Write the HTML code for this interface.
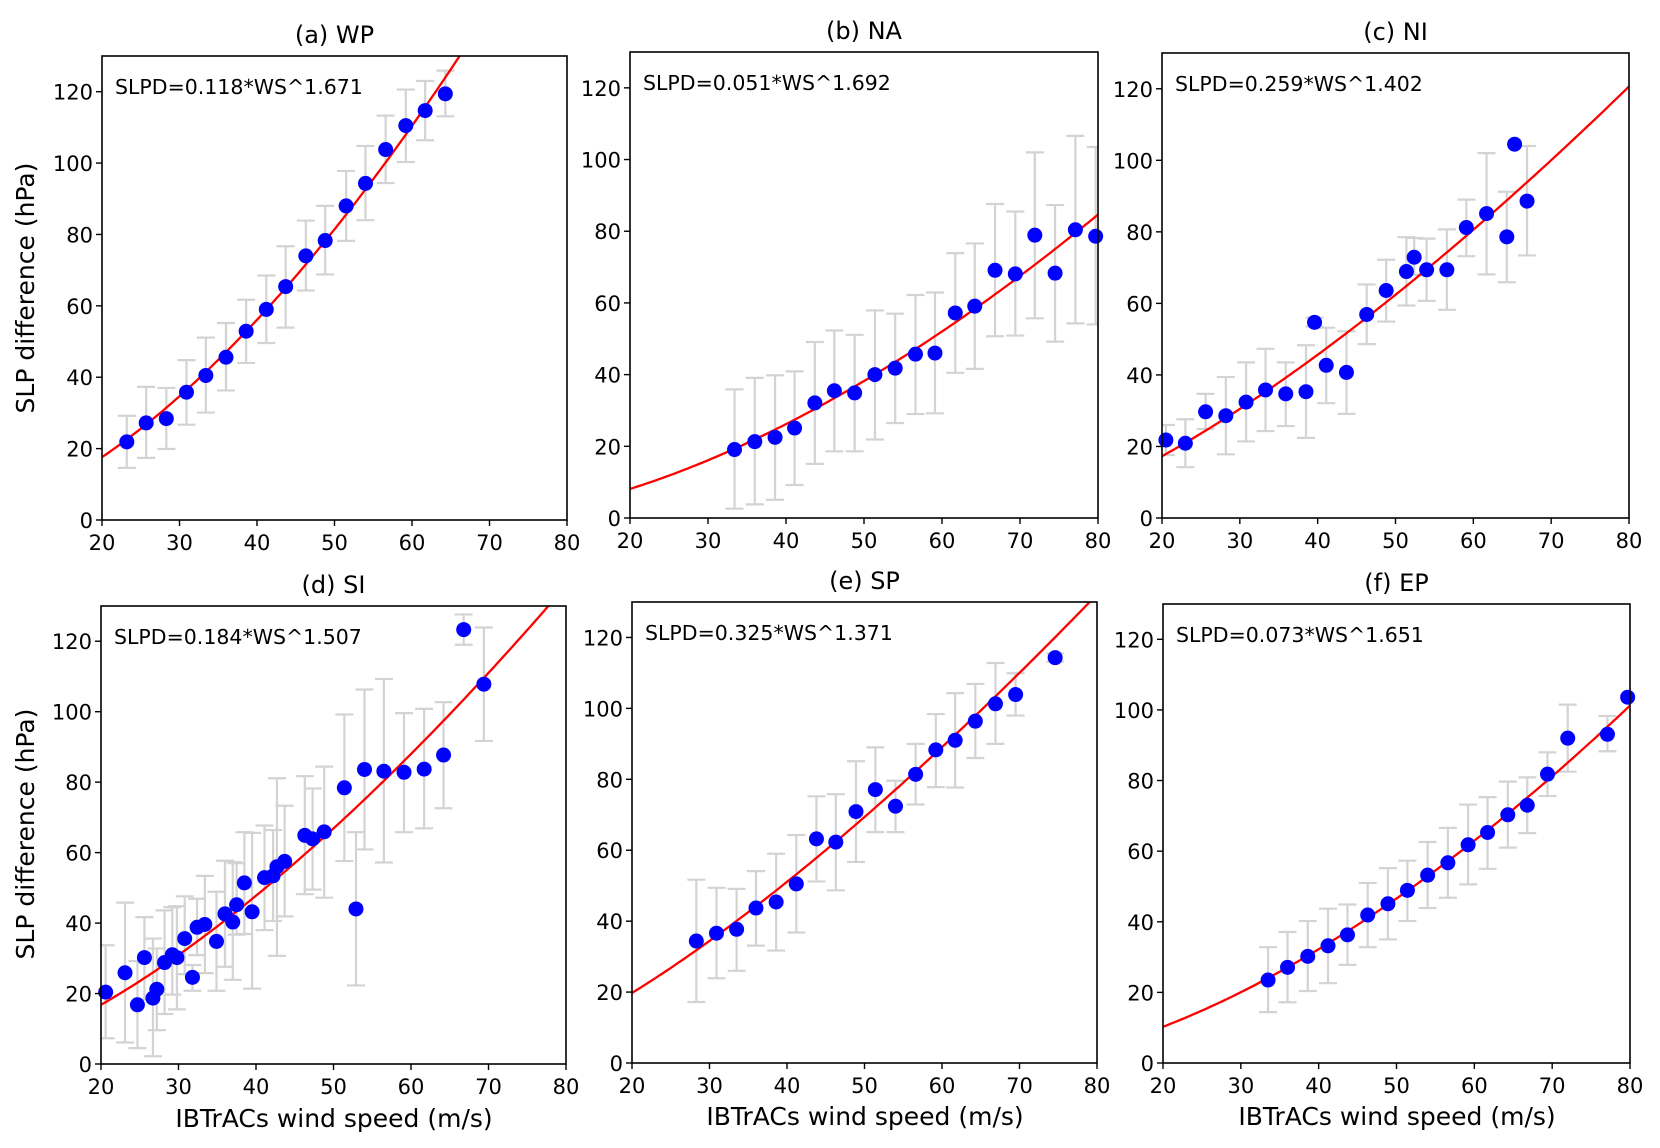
<!DOCTYPE html>
<html><head><meta charset="utf-8"><style>
html,body{margin:0;padding:0;background:#fff;}
svg{display:block;font-family:"DejaVu Sans","Liberation Sans",sans-serif;}
</style></head><body>
<svg id="fig" width="1660" height="1148" viewBox="0 0 1660 1148" xmlns="http://www.w3.org/2000/svg">
<text transform="translate(34,288) rotate(-90)" text-anchor="middle" font-size="25">SLP difference (hPa)</text>
<text transform="translate(34,834) rotate(-90)" text-anchor="middle" font-size="25">SLP difference (hPa)</text>
<text x="334" y="1127" text-anchor="middle" font-size="25">IBTrACs wind speed (m/s)</text>
<text x="865" y="1125" text-anchor="middle" font-size="25">IBTrACs wind speed (m/s)</text>
<text x="1397" y="1125" text-anchor="middle" font-size="25">IBTrACs wind speed (m/s)</text>
</svg>
<script>
const xTicks=[20,30,40,50,60,70,80];
const yTicks=[0,20,40,60,80,100,120];
// panel a: WP
const aX=[23.2,25.7,28.3,30.9,33.4,36.0,38.6,41.2,43.7,46.3,48.8,51.5,54.0,56.6,59.2,61.7,64.3];
const aY=[21.9,27.2,28.4,35.8,40.5,45.6,52.9,59.0,65.4,74.0,78.3,88.0,94.3,103.8,110.5,114.7,119.4];
const aHi=[29.2,37.3,37.0,44.8,51.1,55.2,61.7,68.5,76.7,83.9,88.0,97.8,104.8,113.3,120.6,123.0,125.9];
const aLo=[14.6,17.4,19.9,26.7,30.1,36.3,44.0,49.6,53.9,64.3,68.8,78.2,84.0,94.4,100.3,106.4,113.1];
// panel b: NA
const bX=[33.4,36.0,38.6,41.1,43.7,46.2,48.8,51.4,54.0,56.6,59.1,61.7,64.2,66.8,69.4,71.9,74.5,77.1,79.7];
const bY=[19.1,21.3,22.5,25.1,32.1,35.5,34.9,40.0,41.8,45.7,46.0,57.2,59.1,69.1,68.1,78.9,68.3,80.4,78.6];
const bHi=[35.9,39.1,39.8,40.9,49.1,52.3,51.1,57.9,57.0,62.2,62.9,73.9,76.6,87.6,85.5,102.0,87.3,106.6,103.5];
const bLo=[2.6,3.8,5.1,9.2,15.1,18.6,18.6,21.9,26.5,29.0,29.2,40.5,41.6,50.7,50.9,55.7,49.2,54.3,54.0];
// panel c: NI
const cX=[20.5,23.0,25.6,28.2,30.8,33.3,35.9,38.5,39.6,41.1,43.7,46.3,48.8,51.4,52.4,54.0,56.6,59.1,61.7,64.3,65.3,66.9];
const cY=[21.8,20.9,29.7,28.6,32.4,35.8,34.7,35.3,54.7,42.7,40.7,56.9,63.6,68.9,72.9,69.4,69.4,81.2,85.1,78.6,104.5,88.6];
const cHi=[26.0,27.6,34.7,39.4,43.5,47.3,43.5,48.3,56.0,53.2,52.2,65.3,72.2,78.5,78.3,78.1,80.7,89.0,102.0,91.2,104.5,104.0];
const cLo=[17.6,14.2,24.9,17.8,21.4,24.3,25.7,22.4,53.5,32.1,29.1,48.6,54.9,59.4,68.0,60.7,58.2,73.2,68.1,65.9,104.5,73.4];
// panel d: SI
const dX=[20.6,23.1,24.7,25.6,26.7,27.2,28.2,29.2,29.8,30.8,31.8,32.4,33.4,34.9,36.0,37.0,37.5,38.5,39.5,41.1,42.2,42.7,43.7,46.3,47.3,48.8,51.4,52.9,54.0,56.5,59.1,61.7,64.2,66.8,69.4];
const dY=[20.4,25.9,16.8,30.2,18.7,21.2,28.8,31.0,30.2,35.6,24.6,38.8,39.6,34.8,42.6,40.3,45.2,51.4,43.2,52.9,53.4,56.0,57.5,64.9,63.9,65.9,78.4,44.0,83.6,83.1,82.8,83.7,87.7,123.3,107.8];
const dHi=[33.7,45.8,29.2,41.7,35.6,32.8,43.6,44.5,44.8,47.6,28.1,46.9,53.4,48.9,57.7,57.3,57.0,65.8,65.6,67.7,66.4,81.1,73.3,81.7,78.2,84.4,99.2,65.8,106.3,109.3,99.6,100.8,102.7,127.6,123.9];
const dLo=[7.3,6.1,4.5,18.3,2.2,9.6,14.2,19.7,15.5,25.5,20.8,30.9,25.8,20.8,27.6,23.9,36.7,36.9,21.4,38.0,40.6,30.7,41.9,48.2,49.5,47.2,57.6,22.3,60.9,57.2,65.8,66.9,72.6,119.0,91.7];
// panel e: SP
const eX=[28.3,30.9,33.5,36.0,38.6,41.2,43.8,46.3,48.9,51.4,54.0,56.6,59.2,61.7,64.3,66.9,69.5,74.6];
const eY=[34.4,36.6,37.7,43.7,45.4,50.5,63.2,62.3,70.9,77.1,72.4,81.4,88.3,91.0,96.4,101.3,103.9,114.3];
const eHi=[51.7,49.4,49.1,54.1,59.0,64.3,75.2,75.8,85.1,89.0,79.6,90.0,98.4,104.3,106.9,112.8,109.9,115.5];
const eLo=[17.2,23.9,26.0,33.1,31.7,36.8,51.2,48.7,56.7,65.1,65.1,72.9,77.8,77.7,86.0,90.0,98.0,113.2];
// panel f: EP
const fX=[33.5,36.0,38.6,41.2,43.7,46.3,48.9,51.4,54.0,56.6,59.2,61.7,64.3,66.8,69.4,72.0,77.1,79.7];
const fY=[23.5,27.1,30.2,33.2,36.3,41.9,45.1,48.9,53.2,56.7,61.8,65.3,70.3,73.0,81.8,92.0,93.1,103.6];
const fHi=[32.8,37.1,40.2,43.7,44.9,51.0,55.2,57.3,62.6,66.6,73.2,75.3,79.7,80.9,88.0,101.5,98.3,103.6];
const fLo=[14.4,17.2,20.4,22.6,27.8,32.8,35.0,40.2,43.9,46.8,50.6,55.0,61.0,65.1,75.6,82.5,88.3,103.6];
// fit coefficients
const fitA=[0.118,0.051,0.259,0.184,0.325,0.073];
const fitB=[1.671,1.692,1.402,1.507,1.371,1.651];

const panels=[
 {id:'a',title:'(a) WP',L:102,R:567,T:56,B:520,x:aX,y:aY,hi:aHi,lo:aLo},
 {id:'b',title:'(b) NA',L:630,R:1098,T:52,B:518,x:bX,y:bY,hi:bHi,lo:bLo},
 {id:'c',title:'(c) NI',L:1162,R:1629,T:53,B:518,x:cX,y:cY,hi:cHi,lo:cLo},
 {id:'d',title:'(d) SI',L:101,R:566,T:606,B:1064,x:dX,y:dY,hi:dHi,lo:dLo},
 {id:'e',title:'(e) SP',L:632,R:1097,T:602,B:1063,x:eX,y:eY,hi:eHi,lo:eLo},
 {id:'f',title:'(f) EP',L:1163,R:1630,T:604,B:1063,x:fX,y:fY,hi:fHi,lo:fLo}
];
const NS='http://www.w3.org/2000/svg';
const svg=document.getElementById('fig');
function mk(tag,attrs,parent){const e=document.createElementNS(NS,tag);for(const k in attrs)e.setAttribute(k,attrs[k]);(parent||svg).appendChild(e);return e;}
panels.forEach((p,i)=>{
  const sx=v=>p.L+(v-20)/60*(p.R-p.L);
  const sy=v=>p.B-(v/130)*(p.B-p.T);
  const g=mk('g',{});
  
  
  const cp=mk('clipPath',{id:'clip'+p.id},g);
  mk('rect',{x:p.L,y:p.T,width:p.R-p.L,height:p.B-p.T},cp);
  const t=mk('text',{x:(p.L+p.R)/2,y:p.T-13,'text-anchor':'middle','font-size':'24'},g);
  t.textContent=p.title;
  
  
  const eg=mk('g',{stroke:'#d3d3d3','stroke-width':'2.2','clip-path':'url(#clip'+p.id+')'},g);
  
  
  p.x.forEach((xv,k)=>{
    if(Math.abs(p.hi[k]-p.lo[k])<0.01)return;
    const X=sx(xv),Y1=sy(p.hi[k]),Y2=sy(p.lo[k]);
    mk('line',{x1:X,x2:X,y1:Y1,y2:Y2},eg);
    mk('line',{x1:X-9,x2:X+9,y1:Y1,y2:Y1},eg);
    mk('line',{x1:X-9,x2:X+9,y1:Y2,y2:Y2},eg);
  });
  let d='';
  for(let v=20;v<=80.001;v+=0.5){const yv=fitA[i]*Math.pow(v,fitB[i]);d+=(d?'L':'M')+sx(v).toFixed(1)+','+sy(yv).toFixed(1);}
  const fl=mk('path',{d:d,fill:'none',stroke:'#ff0000','stroke-width':'2.3','clip-path':'url(#clip'+p.id+')'},g);
  
  
  const pg=mk('g',{fill:'#0000ff'},g);
  
  
  p.x.forEach((xv,k)=>{
    const c=mk('circle',{cx:sx(xv),cy:sy(p.y[k]),r:7.5},pg);
    
    
  });
  const fr=mk('rect',{x:p.L,y:p.T,width:p.R-p.L,height:p.B-p.T,fill:'none',stroke:'#000','stroke-width':'1.6'},g);
  
  
  xTicks.forEach(v=>{
    const X=sx(v);
    mk('line',{x1:X,x2:X,y1:p.B,y2:p.B+6,stroke:'#000','stroke-width':'1.4'},g);
    const tl=mk('text',{x:X,y:p.B+30,'text-anchor':'middle','font-size':'21'},g);
    tl.textContent=v;
    
    
  });
  yTicks.forEach(v=>{
    const Y=sy(v);
    mk('line',{x1:p.L-6,x2:p.L,y1:Y,y2:Y,stroke:'#000','stroke-width':'1.4'},g);
    const tl=mk('text',{x:p.L-9,y:Y+8,'text-anchor':'end','font-size':'21'},g);
    tl.textContent=v;
    
    
  });
  const an=mk('text',{x:p.L+13,y:p.T+38,'font-size':'20.5'},g);
  an.textContent='SLPD='+fitA[i].toFixed(3)+'*WS^'+fitB[i].toFixed(3);
  
  
});
</script>
</body></html>
